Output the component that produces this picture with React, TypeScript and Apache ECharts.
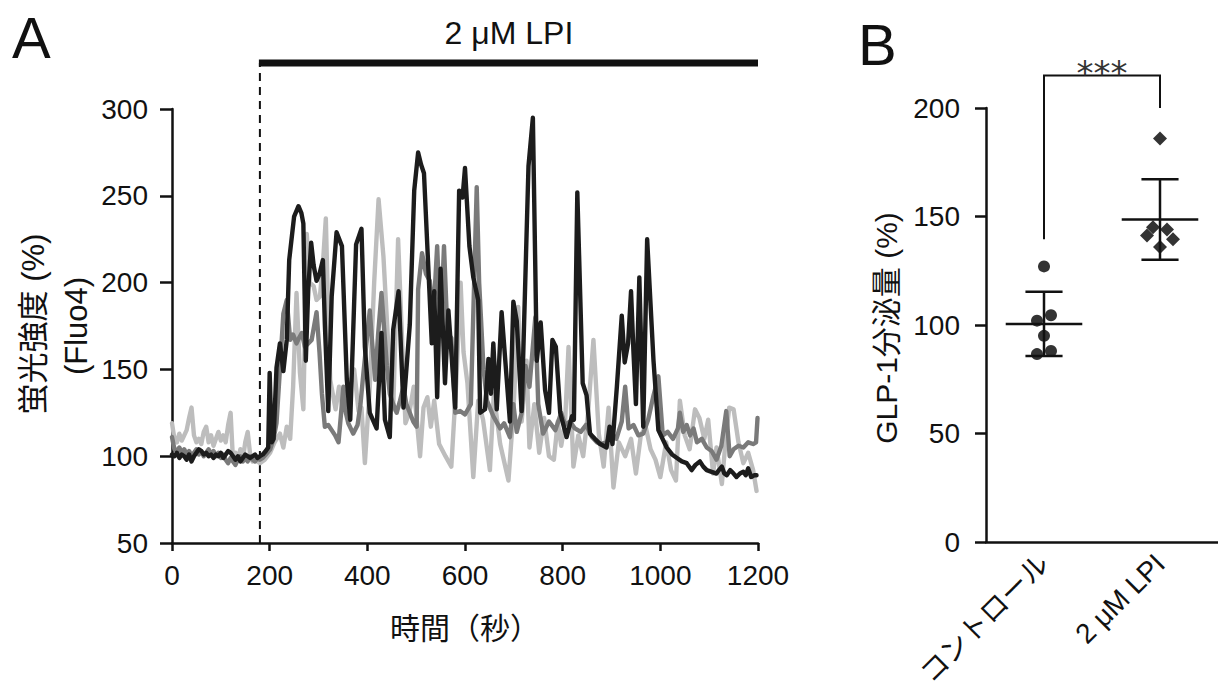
import React, { useEffect, useRef } from 'react';
import * as echarts from 'echarts';

const FONT = "'Liberation Sans', 'Noto Sans CJK JP', sans-serif";

// ---------- Panel A : Ca2+ imaging traces (time s, fluorescence %) ----------
const lightTrace: [number, number][] = [
  [0,119],[5,110],[10,108],[15,113],[20,109],[25,112],[30,115],[35,122],[40,128],[45,112],[50,108],[55,110],
  [60,107],[65,114],[70,117],[75,108],[80,112],[85,106],[90,110],[95,114],[100,109],[105,112],[110,108],[115,118],
  [120,125],[125,97],[130,102],[135,98],[140,104],[145,98],[150,108],[155,114],[160,101],[165,97],[170,99],[175,97],
  [180,96],[190,98],[201,102],[210,108],[221,113],[228,105],[235,117],[242,110],[248,140],[255,194],[262,148],[269,127],
  [276,228],[282,200],[290,198],[296,190],[303,192],[310,215],[315,237],[320,180],[324,144],[335,127],[342,140],[349,128],
  [356,130],[365,142],[373,150],[382,126],[388,128],[395,96],[405,140],[414,200],[423,248],[433,215],[443,163],[453,127],
  [463,225],[470,175],[478,119],[486,125],[495,140],[508,100],[515,128],[523,134],[530,117],[537,132],[547,107],[560,100],
  [572,94],[582,142],[591,200],[597,160],[605,142],[617,88],[627,132],[637,121],[651,92],[659,136],[672,107],[689,86],
  [699,125],[709,186],[716,120],[726,155],[732,105],[742,130],[752,102],[762,122],[772,100],[782,98],[790,120],[797,106],
  [805,120],[812,163],[822,94],[832,112],[842,100],[852,125],[863,167],[874,113],[884,94],[894,128],[904,82],[915,108],
  [928,100],[940,110],[950,90],[960,112],[970,117],[980,104],[990,98],[1000,88],[1012,108],[1022,92],[1032,86],[1040,132],
  [1050,112],[1060,104],[1071,127],[1080,122],[1090,110],[1098,121],[1108,90],[1115,105],[1126,84],[1134,110],[1141,128],
  [1150,127],[1160,108],[1170,96],[1180,102],[1190,92],[1197,80],
];

const midTrace: [number, number][] = [
  [0,111],[5,104],[10,103],[15,105],[20,102],[25,104],[30,101],[35,103],[40,100],[45,102],[50,104],[55,101],
  [60,103],[65,100],[70,102],[75,104],[80,101],[85,103],[90,100],[95,102],[100,99],[105,101],[110,98],[115,96],
  [120,99],[125,97],[130,95],[135,98],[140,100],[145,97],[150,99],[155,97],[160,100],[165,98],[170,97],[175,99],
  [180,98],[186,99],[192,101],[201,104],[208,110],[214,119],[221,150],[228,182],[235,190],[242,167],[248,170],[255,165],
  [260,168],[266,171],[272,163],[279,165],[286,167],[296,183],[302,160],[307,136],[313,117],[320,118],[327,115],[334,112],
  [341,108],[351,140],[356,125],[361,119],[371,113],[380,118],[386,130],[392,148],[405,184],[410,165],[416,144],[422,170],
  [429,194],[434,175],[440,152],[446,136],[453,130],[460,125],[467,132],[474,140],[480,130],[487,125],[494,120],[501,117],
  [504,196],[512,217],[520,205],[528,201],[535,180],[543,221],[550,171],[557,221],[564,171],[572,168],[580,125],[590,126],
  [600,124],[612,130],[624,255],[629,200],[638,150],[645,132],[658,123],[672,116],[680,119],[692,111],[699,130],[706,114],
  [716,125],[724,152],[732,140],[744,180],[750,130],[760,113],[772,120],[785,115],[797,125],[805,118],[815,120],[825,116],
  [837,114],[848,118],[860,111],[870,108],[877,107],[890,108],[900,113],[910,110],[921,120],[928,140],[935,116],[945,118],
  [955,112],[965,113],[975,121],[986,135],[996,146],[1005,112],[1015,114],[1026,110],[1036,116],[1040,125],[1047,114],
  [1054,118],[1061,112],[1068,116],[1075,108],[1085,110],[1095,105],[1105,103],[1115,98],[1125,106],[1135,126],[1142,100],
  [1150,104],[1160,106],[1170,105],[1180,108],[1190,107],[1196,108],[1199,122],
];

const blackTrace: [number, number][] = [
  [0,101],[5,100],[10,102],[15,99],[20,101],[25,100],[30,98],[35,101],[40,97],[45,100],[50,102],[55,104],
  [60,103],[65,101],[70,102],[75,100],[80,101],[85,99],[90,101],[95,100],[100,102],[105,99],[110,101],[115,103],
  [120,102],[125,100],[130,98],[135,100],[140,97],[145,99],[150,101],[155,100],[160,99],[165,100],[170,101],[175,99],
  [180,100],[186,101],[192,103],[197,105],[200,148],[204,108],[208,110],[214,151],[221,165],[228,149],[235,167],[240,213],
  [250,238],[259,244],[265,240],[269,234],[274,155],[279,196],[285,223],[290,210],[296,201],[302,205],[309,213],[313,176],
  [320,126],[327,192],[337,229],[348,221],[358,144],[365,121],[377,222],[388,231],[395,163],[405,125],[419,116],[429,171],
  [436,121],[446,111],[453,173],[464,195],[474,128],[487,176],[496,253],[504,275],[510,268],[516,263],[532,165],[537,195],
  [543,134],[550,208],[559,142],[566,184],[580,128],[588,253],[595,249],[600,266],[609,221],[617,203],[627,190],[631,125],
  [641,127],[648,156],[653,136],[658,165],[665,127],[675,183],[692,120],[699,189],[706,178],[716,126],[730,267],[739,295],
  [747,155],[755,177],[764,138],[772,125],[779,167],[786,163],[795,125],[808,111],[819,123],[823,121],[830,252],[841,142],
  [849,135],[856,113],[866,110],[877,107],[890,105],[896,117],[902,107],[911,140],[921,181],[927,154],[934,165],[940,195],
  [945,160],[950,130],[957,203],[965,117],[973,225],[986,155],[996,115],[1013,105],[1024,101],[1034,99],[1044,97],[1054,96],
  [1064,92],[1072,95],[1081,97],[1088,94],[1095,92],[1105,91],[1115,90],[1120,92],[1126,94],[1131,90],[1136,89],[1143,92],
  [1150,90],[1156,88],[1163,90],[1170,91],[1175,89],[1180,93],[1186,88],[1192,89],[1197,89],
];

const lpiStart = 180;
const lpiEnd = 1200;

// ---------- Panel B : GLP-1 secretion ----------
const groups = ['コントロール', '2 μM LPI'];
const controlValues = [127, 102, 104.5, 95, 86.6, 88];
const lpiValues = [186, 145, 144, 141.3, 139.5, 136];
const controlJitter = [0, -7, 7, 0, -7, 7];
const lpiJitter = [0, -7, 7, -13, 13, 0];
const bracketLow = [139.5, 200];
const bracketTop = 215;

const mean = (a: number[]) => a.reduce((s, v) => s + v, 0) / a.length;
const sd = (a: number[]) => {
  const m = mean(a);
  return Math.sqrt(a.reduce((s, v) => s + (v - m) * (v - m), 0) / (a.length - 1));
};

export default function App() {
  const ref = useRef<HTMLDivElement>(null);

  useEffect(() => {
    if (!ref.current) return;
    const chart = echarts.init(ref.current, undefined, { renderer: 'svg' });
    const axisColor = '#111';
    const lineSeries = (data: [number, number][], color: string, z: number) => ({
      type: 'line',
      xAxisIndex: 0,
      yAxisIndex: 0,
      data,
      showSymbol: false,
      symbol: 'none',
      z,
      lineStyle: { color, width: 4.4, join: 'round', cap: 'round' },
    });

    chart.setOption({
      animation: false,
      backgroundColor: '#fff',
      textStyle: { fontFamily: FONT },
      grid: [
        { left: 172, top: 109, width: 586, height: 434, outerBoundsMode: 'none', containLabel: false },
        { left: 986, top: 108, width: 232, height: 434, outerBoundsMode: 'none', containLabel: false },
      ],
      xAxis: [
        {
          gridIndex: 0, type: 'value', min: 0, max: 1200, interval: 200,
          splitLine: { show: false },
          axisLine: { lineStyle: { color: axisColor, width: 2.5 } },
          axisTick: { length: 8, lineStyle: { color: axisColor, width: 2.5 } },
          axisLabel: { fontSize: 28, color: axisColor, margin: 18, fontFamily: FONT, formatter: (v: number) => String(v) },
        },
        {
          gridIndex: 1, type: 'category', data: groups,
          axisLine: { lineStyle: { color: axisColor, width: 2.5 } },
          axisTick: { alignWithLabel: true, length: 12, lineStyle: { color: axisColor, width: 2.5 } },
          axisLabel: { fontSize: 28, color: axisColor, rotate: 45, margin: 17, fontFamily: FONT },
        },
      ],
      yAxis: [
        {
          gridIndex: 0, type: 'value', min: 50, max: 300, interval: 50,
          splitLine: { show: false },
          axisLine: { show: true, lineStyle: { color: axisColor, width: 2.5 } },
          axisTick: { show: true, length: 12, lineStyle: { color: axisColor, width: 2.5 } },
          axisLabel: { fontSize: 28, color: axisColor, margin: 24, fontFamily: FONT },
        },
        {
          gridIndex: 1, type: 'value', min: 0, max: 200, interval: 50,
          splitLine: { show: false },
          axisLine: { show: true, lineStyle: { color: axisColor, width: 2.5 } },
          axisTick: { show: true, length: 11, lineStyle: { color: axisColor, width: 2.5 } },
          axisLabel: { fontSize: 28, color: axisColor, margin: 26, fontFamily: FONT },
        },
      ],
      series: [
        lineSeries(lightTrace, '#bdbdbd', 1),
        lineSeries(midTrace, '#7a7a7a', 2),
        lineSeries(blackTrace, '#1c1c1c', 3),
        {
          type: 'scatter', xAxisIndex: 1, yAxisIndex: 1, symbol: 'circle', symbolSize: 12,
          itemStyle: { color: '#000' }, z: 4,
          data: controlValues.map((v, k) => ({ value: [0, v], symbolOffset: [controlJitter[k], 0] })),
        },
        {
          type: 'scatter', xAxisIndex: 1, yAxisIndex: 1, symbol: 'diamond', symbolSize: 14,
          itemStyle: { color: '#000' }, z: 4,
          data: lpiValues.map((v, k) => ({ value: [1, v], symbolOffset: [lpiJitter[k], 0] })),
        },
        {
          type: 'custom', xAxisIndex: 1, yAxisIndex: 1, z: 5,
          data: [controlValues, lpiValues].map((g, i) => [i, mean(g), sd(g)]),
          renderItem: (_params: any, api: any) => {
            const i = api.value(0), m = api.value(1), s = api.value(2);
            const c = api.coord([i, m]);
            const top = api.coord([i, m + s]);
            const bot = api.coord([i, m - s]);
            const band = api.size([1, 0])[0];
            const hw = band * 0.33, cw = band * 0.16;
            const style = { stroke: '#111', lineWidth: 2.5, fill: null };
            return {
              type: 'group',
              children: [
                { type: 'line', shape: { x1: c[0] - hw, y1: c[1], x2: c[0] + hw, y2: c[1] }, style },
                { type: 'line', shape: { x1: c[0], y1: top[1], x2: c[0], y2: bot[1] }, style },
                { type: 'line', shape: { x1: c[0] - cw, y1: top[1], x2: c[0] + cw, y2: top[1] }, style },
                { type: 'line', shape: { x1: c[0] - cw, y1: bot[1], x2: c[0] + cw, y2: bot[1] }, style },
              ],
            };
          },
        },
      ],
    });

    const pA = (t: number, v: number) => chart.convertToPixel({ gridIndex: 0 }, [t, v]) as number[];
    const pB = (c: number, v: number) => chart.convertToPixel({ gridIndex: 1 }, [c, v]) as number[];
    const s0 = pA(lpiStart, 50);
    const s1 = pA(lpiEnd, 50);
    const a0 = pA(0, 50);
    const barY = 63;
    const bl = pB(0, bracketLow[0]);
    const br = pB(1, bracketLow[1]);
    const bt = pB(0, bracketTop)[1];
    const txt = (text: string, x: number, y: number, fontSize: number, extra: any = {}) => ({
      type: 'text', x, y,
      style: { text, fontSize, fontFamily: FONT, fill: '#111', align: 'center', verticalAlign: 'middle', ...extra.style },
      ...extra.el,
    });

    chart.setOption({
      graphic: [
        { type: 'line', shape: { x1: s0[0], y1: s0[1], x2: s0[0], y2: barY }, style: { stroke: '#111', lineWidth: 2, lineDash: [8, 6] } },
        { type: 'line', shape: { x1: s0[0] - 1, y1: barY, x2: s1[0], y2: barY }, style: { stroke: '#111', lineWidth: 7 } },
        txt('2 μM LPI', (s0[0] + s1[0]) / 2, 33, 32),
        txt('A', 12, 37, 58, { style: { align: 'left' } }),
        txt('B', 858, 44, 58, { style: { align: 'left' } }),
        txt('蛍光強度 (%)', 33, 324, 31, { el: { rotation: Math.PI / 2 } }),
        txt('(Fluo4)', 76, 326, 31, { el: { rotation: Math.PI / 2 } }),
        txt('時間（秒）', (a0[0] + s1[0]) / 2, 628, 30),
        txt('GLP-1分泌量 (%)', 886, 328, 30, { el: { rotation: Math.PI / 2 } }),
        {
          type: 'polyline',
          shape: { points: [[bl[0], bl[1]], [bl[0], bt], [br[0], bt], [br[0], br[1]]] },
          style: { stroke: '#111', lineWidth: 2, fill: null },
        },
        txt('***', (bl[0] + br[0]) / 2, bt - 2, 34, { style: { fontFamily: "'DejaVu Sans', sans-serif", fill: '#333' } }),
      ],
    });

    return () => chart.dispose();
  }, []);

  return (
    <div
      ref={ref}
      style={{ position: 'fixed', left: 0, top: 0, width: 1218, height: 691, background: '#fff' }}
    />
  );
}
